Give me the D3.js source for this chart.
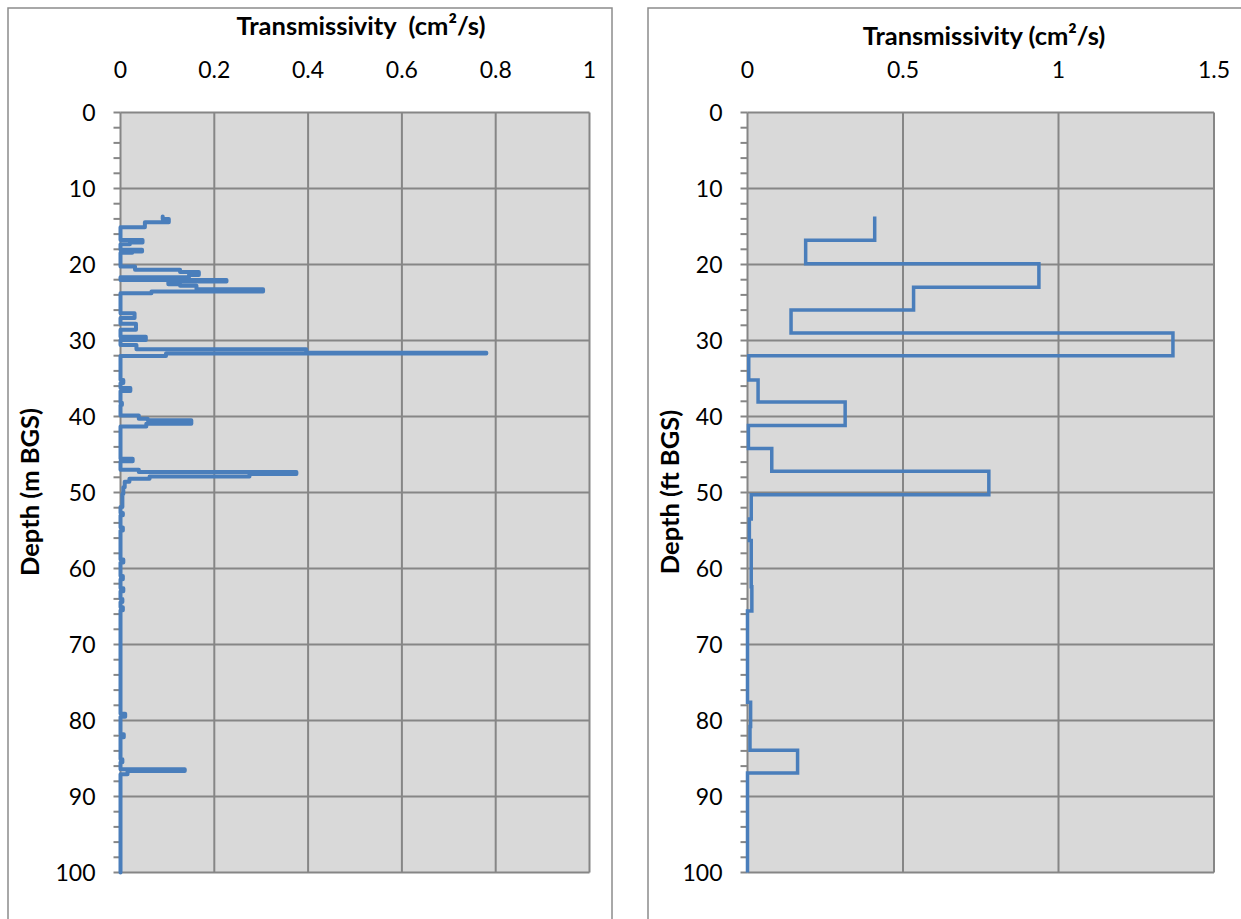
<!DOCTYPE html>
<html>
<head>
<meta charset="utf-8">
<script src="https://cdn.jsdelivr.net/npm/d3@7"></script>
<style>
  html, body { margin: 0; padding: 0; background: #ffffff; }
  svg { display: block; }
  text { font-family: Lato, "Open Sans", sans-serif; fill: #000; white-space: pre; }
</style>
</head>
<body>
<svg id="chart" width="1241" height="919"></svg>
<script>
// ---------- DATA ----------
// Left panel: depth (m BGS) where each step interval starts, and its transmissivity (cm²/s)
const leftTop = [13.68, 14.0, 14.43, 15.09, 16.76, 17.1, 17.35, 18.07, 18.3, 18.45,
  20.27, 20.7, 21.0, 21.37, 21.67, 22.03, 22.24, 22.6, 22.8, 23.25, 23.56, 23.78,
  26.4, 27.05, 27.8, 28.6, 29.5, 29.95, 30.6, 31.15, 31.6, 31.7, 32.05,
  35.2, 35.6, 36.25, 36.65, 38.2, 38.5, 39.86, 40.3, 40.5, 40.95, 41.3,
  45.56, 45.9, 47.0, 47.3, 47.55, 47.9, 48.2, 48.6, 49.3, 50.2, 51.9,
  52.7, 53.0, 54.6, 55.0, 58.8, 59.2, 61.0, 61.4, 62.6, 63.0, 64.0, 64.4, 65.1, 65.5,
  79.1, 79.5, 81.8, 82.2, 85.1, 85.5, 86.4, 86.65, 87.06];
const leftT = [0.09, 0.103, 0.052, 0, 0.047, 0.02, 0, 0.046, 0.025, 0,
  0.031, 0.127, 0.167, 0.146, 0, 0.226, 0.102, 0.127, 0.162, 0.304, 0.066, 0,
  0.030, 0, 0.033, 0, 0.054, 0, 0.034, 0.396, 0.78, 0.097, 0,
  0.006, 0, 0.021, 0, 0.003, 0, 0.039, 0.058, 0.151, 0.055, 0,
  0.026, 0, 0.039, 0.375, 0.275, 0.062, 0.019, 0.009, 0.006, 0.004, 0,
  0.005, 0, 0.005, 0, 0.006, 0, 0.005, 0, 0.006, 0, 0.004, 0, 0.005, 0,
  0.01, 0, 0.007, 0, 0.004, 0, 0.137, 0.015, 0];
const leftBottomDepth = 100;

// Right panel: depth (ft BGS) interval starts and transmissivity (cm²/s)
const rightTop = [13.7, 16.8, 19.9, 23.0, 26.0, 29.0, 32.0, 35.2, 38.1, 41.2, 44.2,
  47.2, 50.3, 53.5, 56.3, 62.4, 65.6, 77.6, 80.8, 83.9, 86.9];
const rightT = [0.409, 0.187, 0.937, 0.534, 0.140, 1.368, 0.004, 0.034, 0.314, 0.003, 0.078,
  0.776, 0.012, 0.006, 0.012, 0.014, 0, 0.01, 0.008, 0.161, 0];
const rightBottomDepth = 100;

// Axis ticks / labels
const leftXTicks = [0, 0.2, 0.4, 0.6, 0.8, 1];
const rightXTicks = [0, 0.5, 1, 1.5];
const depthMajorTicks = [0, 10, 20, 30, 40, 50, 60, 70, 80, 90, 100];
const depthMinorTicks = d3.range(0, 101, 2);
const leftTitle = "Transmissivity  (cm²/s)";
const rightTitle = "Transmissivity (cm²/s)";
const leftYTitle = "Depth (m BGS)";
const rightYTitle = "Depth (ft BGS)";

// ---------- DRAW ----------
const svg = d3.select("#chart");
const GRID = "#868686";
const LINE = "#4a7ebb";
const TICK_FS = 23, TITLE_FS = 25.5;

function panel(cfg) {
  const g = svg.append("g");
  // frame
  g.append("rect").attr("x", cfg.frame[0]).attr("y", cfg.frame[1])
    .attr("width", cfg.frame[2]).attr("height", cfg.frame[3])
    .attr("fill", "#fff").attr("stroke", "#8c8c8c").attr("stroke-width", 1.5);

  const x = d3.scaleLinear().domain([0, cfg.xMax]).range(cfg.xRange);
  const y = d3.scaleLinear().domain([0, 100]).range(cfg.yRange);

  // plot area
  g.append("rect").attr("x", x(0)).attr("y", y(0))
    .attr("width", x(cfg.xMax) - x(0)).attr("height", y(100) - y(0))
    .attr("fill", "#d9d9d9");

  // gridlines
  g.append("g").selectAll("line").data(depthMajorTicks).join("line")
    .attr("x1", x(0)).attr("x2", x(cfg.xMax))
    .attr("y1", d => y(d)).attr("y2", d => y(d))
    .attr("stroke", GRID).attr("stroke-width", 2);
  g.append("g").selectAll("line").data(cfg.xTicks).join("line")
    .attr("x1", d => x(d)).attr("x2", d => x(d))
    .attr("y1", y(0)).attr("y2", y(100))
    .attr("stroke", GRID).attr("stroke-width", 2);

  // y axis ticks (outside, minor every 2)
  g.append("g").selectAll("line").data(depthMinorTicks).join("line")
    .attr("x1", x(0) - 7).attr("x2", x(0))
    .attr("y1", d => y(d)).attr("y2", d => y(d))
    .attr("stroke", GRID).attr("stroke-width", 2);

  // y tick labels
  g.append("g").selectAll("text").data(depthMajorTicks).join("text")
    .attr("x", x(0) - 25).attr("y", d => y(d) + 8)
    .attr("text-anchor", "end").style("font-size", TICK_FS + "px")
    .text(d => d);

  // x tick labels on top
  g.append("g").selectAll("text").data(cfg.xTicks).join("text")
    .attr("x", d => x(d)).attr("y", 78)
    .attr("text-anchor", "middle").style("font-size", TICK_FS + "px")
    .text(d => d);

  // titles
  g.append("text").attr("x", cfg.titlePos[0]).attr("y", cfg.titlePos[1])
    .attr("text-anchor", "middle").style("font-size", TITLE_FS + "px")
    .style("font-weight", "bold").text(cfg.title);
  g.append("text")
    .attr("transform", `translate(${cfg.yTitlePos[0]},${cfg.yTitlePos[1]}) rotate(-90)`)
    .attr("text-anchor", "middle").style("font-size", TITLE_FS + "px")
    .style("font-weight", "bold").text(cfg.yTitle);

  // step profile
  const pts = [];
  cfg.tops.forEach((t, i) => {
    const b = i + 1 < cfg.tops.length ? cfg.tops[i + 1] : cfg.bottom;
    pts.push([cfg.vals[i], t], [cfg.vals[i], b]);
  });
  const line = d3.line().x(d => x(d[0])).y(d => y(d[1]));
  g.append("path").attr("d", line(pts))
    .attr("fill", "none").attr("stroke", LINE)
    .attr("stroke-width", cfg.lw)
    .attr("stroke-linejoin", cfg.join).attr("stroke-linecap", cfg.cap);
}

panel({
  frame: [8, 8, 604, 940],
  xMax: 1, xRange: [120.5, 589.5], yRange: [112.5, 872.5],
  xTicks: leftXTicks, title: leftTitle, titlePos: [361, 35],
  yTitle: leftYTitle, yTitlePos: [39, 492],
  tops: leftTop, vals: leftT, bottom: leftBottomDepth,
  lw: 4, join: "round", cap: "round"
});
panel({
  frame: [648, 8, 620, 940],
  xMax: 1.5, xRange: [747.5, 1214], yRange: [112.5, 872.5],
  xTicks: rightXTicks, title: rightTitle, titlePos: [984, 45],
  yTitle: rightYTitle, yTitlePos: [679, 492],
  tops: rightTop, vals: rightT, bottom: rightBottomDepth,
  lw: 3.5, join: "miter", cap: "butt"
});
</script>
</body>
</html>
